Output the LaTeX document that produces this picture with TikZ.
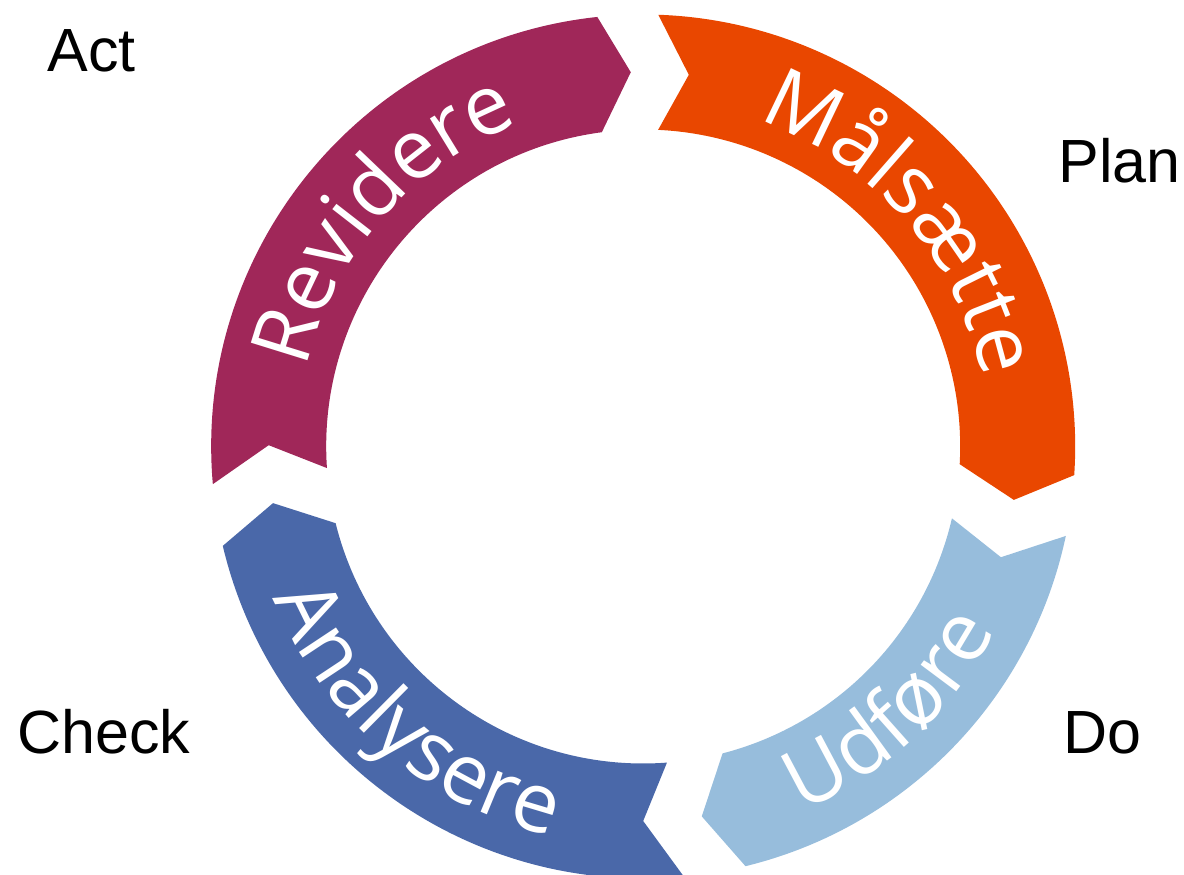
\documentclass[tikz,border=0pt]{standalone}
\usepackage{fontspec}
\usepackage{tikz}
\usetikzlibrary{decorations.text}
\newfontfamily\wheelfont{Open Sans}
\newfontfamily\labelfont{Liberation Sans}
\definecolor{ActPurple}{HTML}{A02759}
\definecolor{PlanOrange}{HTML}{E94700}
\definecolor{DoBlue}{HTML}{97BDDC}
\definecolor{CheckBlue}{HTML}{4A68A9}

\begin{document}
\begin{tikzpicture}[
  phasetext/.style={decorate, decoration={text along path, text align=center,
                    text color=white,
                    text={|\wheelfont\fontsize{83}{90}\selectfont|#1}}},
  stage/.style={anchor=base west, inner sep=0pt,
                font=\labelfont\fontsize{61}{72}\selectfont}
]
\useasboundingbox (-643.2pt,-428.5pt) rectangle (540.8pt,446.5pt);
% ring pieces: notched tail, pointed head, running clockwise
\fill[PlanOrange] (88:432pt) arc[start angle=88, end angle=-3.8, radius=432pt]
  -- (-8.2:374.5pt) -- (-3.2:317pt) arc[start angle=-3.2, end angle=87.3, radius=317pt]
  -- (83:374.5pt) -- cycle;
\fill[DoBlue] (-11.95:432pt) arc[start angle=-11.95, end angle=-76.3, radius=432pt]
  -- (-81:374.5pt) -- (-75.5:317pt) arc[start angle=-75.5, end angle=-13.1, radius=317pt]
  -- (-17.2:374.5pt) -- cycle;
\fill[CheckBlue] (-84.6:432pt) arc[start angle=-84.6, end angle=-166.7, radius=432pt]
  -- (-171.3:374.5pt) -- (-166:317pt) arc[start angle=-166, end angle=-85.7, radius=317pt]
  -- (-90:374.5pt) -- cycle;
\fill[ActPurple] (-175:432pt) arc[start angle=-175, end angle=-263.9, radius=432pt]
  -- (-268.1:374.5pt) -- (-262.5:317pt) arc[start angle=-262.5, end angle=-176.1, radius=317pt]
  -- (-180.2:374.5pt) -- cycle;
% words on the ring
\path[phasetext=Revidere] (179:346pt) arc[start angle=179, end angle=99, radius=346pt];
\path[phasetext=Målsætte] (81:346pt) arc[start angle=81, end angle=1, radius=346pt];
\path[phasetext=Udføre] (-82:398pt) arc[start angle=-82, end angle=-12, radius=398pt];
\path[phasetext=Analysere] (194.5:400pt) arc[start angle=194.5, end angle=264.5, radius=400pt];
% PDCA labels
\node[stage] (act) at (-596pt,375pt) {Act};
\node[stage] (plan) at (415pt,263.5pt) {Plan};
\node[stage] (do) at (420pt,-306.5pt) {Do};
\node[stage] (check) at (-626pt,-306.5pt) {Check};
\end{tikzpicture}
\end{document}
